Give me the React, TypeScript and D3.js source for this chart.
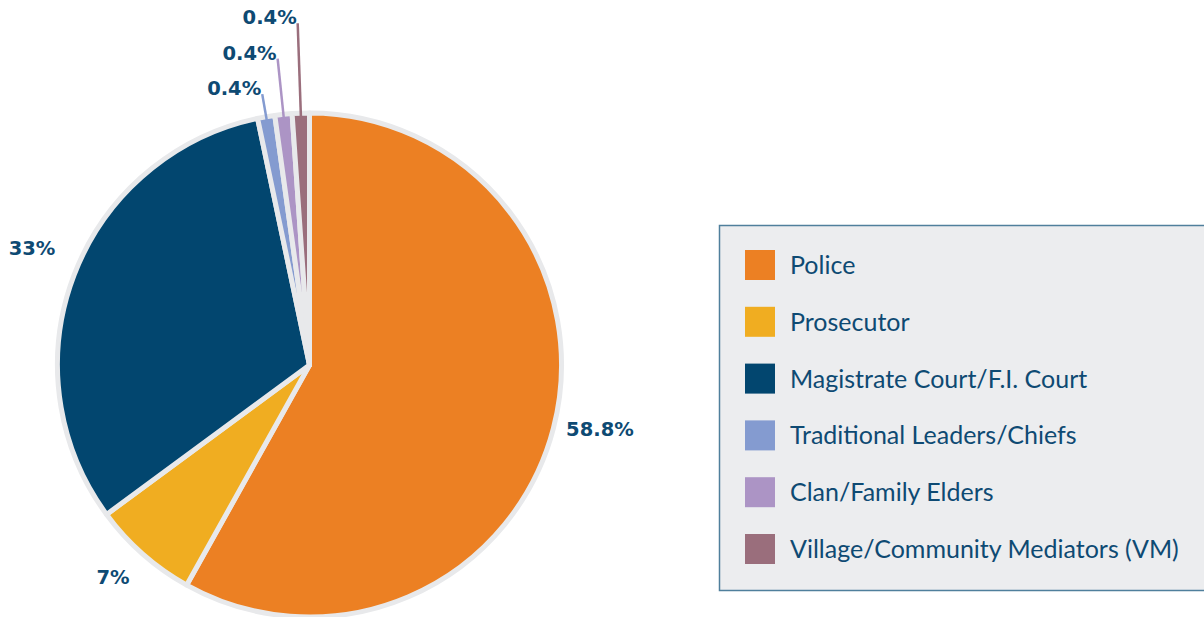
import React from "react";
import * as d3 from "d3";

const categories = [
  "Police",
  "Prosecutor",
  "Magistrate Court/F.I. Court",
  "Traditional Leaders/Chiefs",
  "Clan/Family Elders",
  "Village/Community Mediators (VM)",
];
// slice shares as drawn in the picture
const shares = [58.1, 6.8, 31.8, 1.1, 1.1, 1.1];
// printed labels
const labels = ["58.8%", "7%", "33%", "0.4%", "0.4%", "0.4%"];
const colors = ["#ec8023", "#f0ad21", "#02466f", "#849bd0", "#ac94c5", "#9a6e7c"];

const W = 1204;
const H = 617;
const cx = 309.5;
const cy = 365;
const R = 252;
const textColor = "#0e4a73";

export default function App() {
  const pie = d3.pie<number>().sort(null).value((d) => d)(shares);
  const arc = d3.arc<d3.PieArcDatum<number>>().innerRadius(0).outerRadius(R);
  const legendY = d3.scalePoint<string>().domain(categories).range([250, 534]);
  const leaderR = [0, 0, 0, 275, 308, 342];

  return (
    <svg
      width={W}
      height={H}
      style={{ position: "absolute", left: 0, top: 0, display: "block" }}
    >
      <rect width={W} height={H} fill="#ffffff" />
      <g transform={`translate(${cx},${cy})`}>
        {pie.map((p, i) => (
          <path
            key={i}
            d={arc(p) || ""}
            fill={colors[i]}
            stroke="#e8e9eb"
            strokeWidth={5}
            strokeLinejoin="round"
          />
        ))}
        {pie.map((p, i) => {
          const mid = (p.startAngle + p.endAngle) / 2;
          const sx = Math.sin(mid);
          const sy = -Math.cos(mid);
          if (i >= 3) {
            const r0 = 248;
            const r1 = leaderR[i];
            const x1 = sx * r1;
            const y1 = sy * r1;
            return (
              <g key={i}>
                <line
                  x1={sx * r0}
                  y1={sy * r0}
                  x2={x1}
                  y2={y1}
                  stroke={colors[i]}
                  strokeWidth={2.5}
                />
                <text
                  x={x1 - 1}
                  y={y1 + 1}
                  textAnchor="end"
                  fontFamily="DejaVu Sans"
                  fontWeight="bold"
                  fontSize={19.5}
                  fill={textColor}
                >
                  {labels[i]}
                </text>
              </g>
            );
          }
          const lr = 297;
          return (
            <text
              key={i}
              x={sx * lr + (i === 0 ? 3 : 0)}
              y={sy * lr - 11}
              dy="0.36em"
              textAnchor="middle"
              fontFamily="DejaVu Sans"
              fontWeight="bold"
              fontSize={19.5}
              fill={textColor}
            >
              {labels[i]}
            </text>
          );
        })}
      </g>
      <rect
        x={719.5}
        y={225.5}
        width={520}
        height={365}
        fill="#ecedef"
        stroke="#4f7f9c"
        strokeWidth={1.5}
      />
      {categories.map((c, i) => {
        const y = legendY(c) as number;
        return (
          <g key={c}>
            <rect x={745} y={y} width={30} height={30} fill={colors[i]} />
            <text
              x={790}
              y={y + 24}
              fontFamily="Lato"
              fontSize={25}
              fill={textColor}
            >
              {c}
            </text>
          </g>
        );
      })}
    </svg>
  );
}
